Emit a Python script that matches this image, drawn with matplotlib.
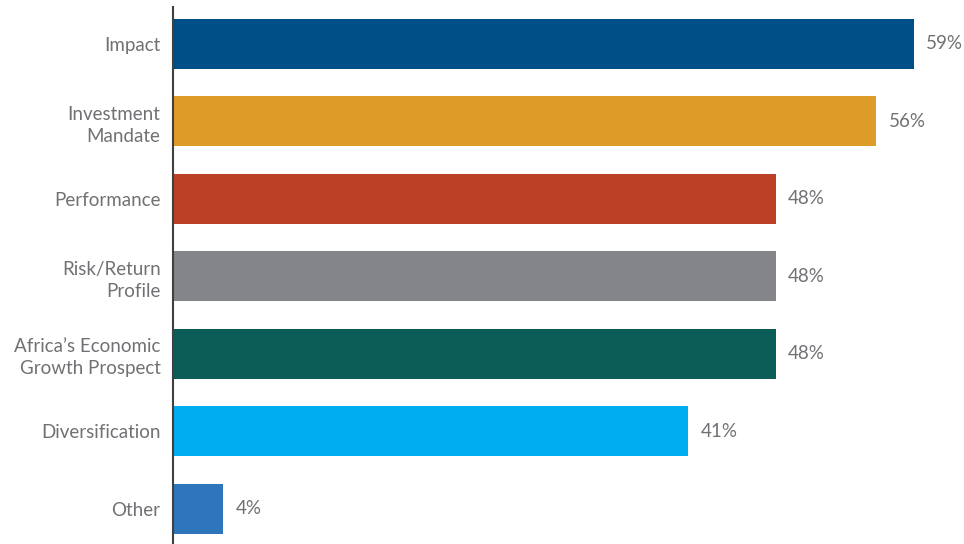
import matplotlib
matplotlib.use('Agg')
import matplotlib.pyplot as plt

# 데이터
categories = ['Impact', 'Investment\nMandate', 'Performance', 'Risk/Return\nProfile',
              "Africa\u2019s Economic\nGrowth Prospect", 'Diversification', 'Other']
values = [59, 56, 48, 48, 48, 41, 4]
colors = ['#004f86', '#dd9b27', '#bc4025', '#848589', '#0c5c57', '#00aeef', '#2e75bb']

plt.rcParams['font.family'] = ['Lato', 'DejaVu Sans']
text_color = '#707174'

fig = plt.figure(figsize=(9.64, 5.44), dpi=100)
ax = fig.add_axes([173 / 964, 0, 1 - 173 / 964, 537 / 544])

y = list(range(len(categories)))
ax.barh(y, values, height=0.645, color=colors)

for yi, v in zip(y, values):
    ax.annotate(f'{v}%', (v, yi), xytext=(9, 0), textcoords='offset points',
                ha='left', va='center', fontsize=13.5, color=text_color)

ax.set_xlim(0, 63)
ax.set_ylim(6.452, -0.477)
ax.set_yticks(y)
ax.set_yticklabels(categories, fontsize=13.5, color=text_color, linespacing=1.35)
ax.tick_params(axis='y', length=0, pad=9)
ax.set_xticks([])

for s in ['top', 'right', 'bottom']:
    ax.spines[s].set_visible(False)
ax.spines['left'].set_color('#404040')
ax.spines['left'].set_linewidth(1.5)

fig.savefig('out.png', dpi=100)
